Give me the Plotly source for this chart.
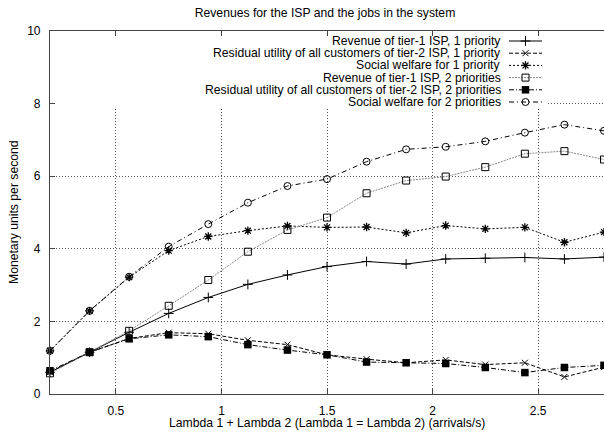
import plotly.graph_objects as go

# ---------------- data ----------------
x_vals = [0.1875, 0.375, 0.5625, 0.75, 0.9375, 1.125, 1.3125, 1.5,
          1.6875, 1.875, 2.0625, 2.25, 2.4375, 2.625, 2.8125]

revenue_1p = [0.60, 1.15, 1.70, 2.22, 2.66, 3.02, 3.28, 3.51,
              3.65, 3.58, 3.72, 3.74, 3.76, 3.72, 3.77]
residual_1p = [0.60, 1.15, 1.53, 1.69, 1.66, 1.48, 1.36, 1.08,
               0.96, 0.86, 0.94, 0.81, 0.86, 0.47, 0.74]
welfare_1p = [1.19, 2.29, 3.22, 3.95, 4.34, 4.50, 4.63, 4.59,
              4.60, 4.44, 4.64, 4.55, 4.59, 4.18, 4.46]
revenue_2p = [0.57, 1.15, 1.74, 2.43, 3.14, 3.92, 4.52, 4.86,
              5.53, 5.88, 5.99, 6.25, 6.62, 6.69, 6.46]
residual_2p = [0.64, 1.15, 1.52, 1.63, 1.58, 1.36, 1.21, 1.08,
               0.88, 0.86, 0.84, 0.73, 0.59, 0.73, 0.79]
welfare_2p = [1.19, 2.29, 3.23, 4.06, 4.68, 5.27, 5.73, 5.92,
              6.40, 6.74, 6.81, 6.96, 7.20, 7.42, 7.25]

series_names = [
    "Revenue of tier-1 ISP, 1 priority",
    "Residual utility of all customers of tier-2 ISP, 1 priority",
    "Social welfare for 1 priority",
    "Revenue of tier-1 ISP, 2 priorities",
    "Residual utility of all customers of tier-2 ISP, 2 priorities",
    "Social welfare for 2 priorities",
]
series_values = [revenue_1p, residual_1p, welfare_1p,
                 revenue_2p, residual_2p, welfare_2p]

x_tick_vals = [0.5, 1, 1.5, 2, 2.5]
x_tick_text = ["0.5", "1", "1.5", "2", "2.5"]
y_tick_vals = [0, 2, 4, 6, 8, 10]
y_tick_text = ["0", "2", "4", "6", "8", "10"]

title_text = "Revenues for the ISP and the jobs in the system"
x_title = "Lambda 1 + Lambda 2 (Lambda 1 = Lambda 2) (arrivals/s)"
y_title = "Monetary units per second"

# ---------------- styles ----------------
styles = [
    dict(line=dict(color="black", width=1, dash="solid"),
         marker=dict(symbol="cross-thin", size=7, color="black",
                     line=dict(color="black", width=1))),
    dict(line=dict(color="black", width=1, dash="4px,2px"),
         marker=dict(symbol="x-thin", size=6, color="black",
                     line=dict(color="black", width=1))),
    dict(line=dict(color="black", width=1, dash="2px,2px"),
         marker=dict(symbol="asterisk", size=7, color="black",
                     line=dict(color="black", width=1.3))),
    dict(line=dict(color="#8a8a8a", width=1, dash="2px,1px"),
         marker=dict(symbol="square-open", size=7, color="black",
                     line=dict(color="black", width=1))),
    dict(line=dict(color="black", width=1, dash="5px,2px,1px,2px"),
         marker=dict(symbol="square", size=7.5, color="black",
                     line=dict(color="black", width=0))),
    dict(line=dict(color="black", width=1, dash="5px,3px,1px,3px"),
         marker=dict(symbol="circle-open", size=7, color="black",
                     line=dict(color="black", width=1))),
]

FONT = "Liberation Sans, Arial, Helvetica, sans-serif"
TXT = 12.2
W, H = 604, 432
ML, MR, MT, MB = 50, 0, 31, 38
plot_w = W - ML - MR
plot_h = H - MT - MB


def px_x(px):
    return (px - ML) / plot_w


def px_y(py):
    return (H - MB - py) / plot_h


fig = go.Figure()

for name, vals, st in zip(series_names, series_values, styles):
    fig.add_trace(go.Scatter(
        x=x_vals, y=vals, name=name, mode="lines+markers",
        line=st["line"], marker=st["marker"], showlegend=False,
        cliponaxis=False,
    ))

# ---------------- manual key (gnuplot style: text right, sample left) ----------------
# opaque key background hiding the grid (drawn as a filled trace above the grid)
bx0, bx1, by0, by1 = px_x(ML + 1), px_x(546), px_y(108), px_y(33)
fig.add_trace(go.Scatter(
    x=[bx0, bx1, bx1, bx0, bx0], y=[by0, by0, by1, by1, by0],
    mode="lines", fill="toself", fillcolor="white",
    line=dict(width=0, color="white"), xaxis="x2", yaxis="y2",
    showlegend=False, hoverinfo="skip"))

key_text_right = 503
key_line_x0, key_line_x1 = 509, 542
key_rows = [41, 53.2, 65.4, 77.6, 89.8, 102]

for name, st, row in zip(series_names, styles, key_rows):
    yy = px_y(row)
    fig.add_trace(go.Scatter(
        x=[px_x(key_line_x0), px_x(key_line_x1)], y=[yy, yy],
        mode="lines", line=st["line"], xaxis="x2", yaxis="y2",
        showlegend=False, hoverinfo="skip"))
    fig.add_trace(go.Scatter(
        x=[px_x((key_line_x0 + key_line_x1) / 2)], y=[yy],
        mode="markers", marker=st["marker"], xaxis="x2", yaxis="y2",
        showlegend=False, hoverinfo="skip"))
    fig.add_annotation(
        text=name, xref="paper", yref="paper", x=px_x(key_text_right), y=yy,
        xanchor="right", yanchor="middle", showarrow=False,
        font=dict(family=FONT, size=TXT, color="black"))

# axis titles
fig.add_annotation(text=x_title, xref="paper", yref="paper",
                   x=px_x(327), y=px_y(422.5), xanchor="center",
                   yanchor="middle", showarrow=False,
                   font=dict(family=FONT, size=TXT, color="black"))
fig.add_annotation(text=y_title, xref="paper", yref="paper",
                   x=px_x(14), y=px_y(212), xanchor="center",
                   yanchor="middle", showarrow=False, textangle=-90,
                   font=dict(family=FONT, size=TXT, color="black"))

axis_common = dict(
    showline=True, linecolor="#444", linewidth=1.2,
    ticks="inside", ticklen=5, tickcolor="#444", tickwidth=1,
    showgrid=True, gridcolor="#555", gridwidth=1, griddash="1px,2px",
    zeroline=False, automargin=False,
    tickfont=dict(family=FONT, size=12, color="black"),
)

fig.update_layout(
    width=W, height=H,
    margin=dict(l=ML, r=MR, t=MT, b=MB, pad=0, autoexpand=False),
    plot_bgcolor="white", paper_bgcolor="white",
    font=dict(family=FONT, size=TXT, color="black"),
    title=dict(text=title_text, x=325 / W, xanchor="center",
               y=1 - 13 / H, yanchor="middle", yref="container",
               automargin=False,
               font=dict(family=FONT, size=TXT, color="black")),
    xaxis=dict(range=[0.1875, 2.8125], tickvals=x_tick_vals,
               ticktext=x_tick_text, mirror="ticks",
               ticklabelstandoff=5, **axis_common),
    yaxis=dict(range=[0, 10], tickvals=y_tick_vals, ticktext=y_tick_text,
               ticklabelstandoff=6, **axis_common),
    xaxis2=dict(overlaying="x", range=[0, 1], visible=False),
    yaxis2=dict(overlaying="y", range=[0, 1], visible=False),
    showlegend=False,
)

fig.write_html("out.html",
               config={"displayModeBar": False},
               post_script="document.body.style.margin='0px';"
                           "document.body.style.overflow='hidden';")
